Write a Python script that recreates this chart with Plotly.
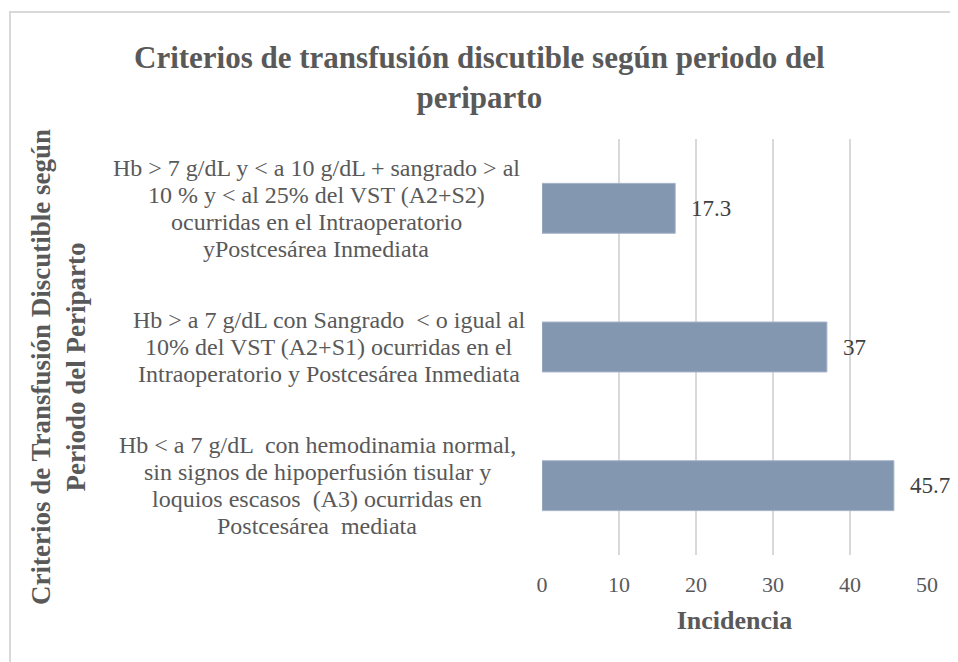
import plotly.graph_objects as go

# categorias (de arriba hacia abajo), una lista de lineas por categoria
categorias = [
    ["Hb > 7 g/dL y < a 10 g/dL + sangrado > al",
     "10 % y < al 25% del VST (A2+S2)",
     "ocurridas en el Intraoperatorio",
     "yPostcesárea Inmediata"],
    ["Hb > a 7 g/dL con Sangrado  < o igual al",
     "10% del VST (A2+S1) ocurridas en el",
     "Intraoperatorio y Postcesárea Inmediata"],
    ["Hb < a 7 g/dL  con hemodinamia normal,",
     "sin signos de hipoperfusión tisular y",
     "loquios escasos  (A3) ocurridas en",
     "Postcesárea  mediata"],
]
claves = ["A2+S2", "A2+S1", "A3"]
incidencia = [17.3, 37, 45.7]
etiquetas = ["17.3", "37", "45.7"]
x_ticks = [0, 10, 20, 30, 40, 50]

FONT = "Liberation Serif"
GRIS = "#595959"

# geometria (la pagina tiene 8 px de margen en el body)
W, H = 950, 654
L, R, T, B = 534, 31, 131, 107
PW, PH = W - L - R, H - T - B


def px_x(p):
    return (p - 8 - L) / PW


def px_y(p):
    return (H - B - (p - 8)) / PH


fig = go.Figure()
fig.add_trace(go.Bar(
    x=incidencia,
    y=claves,
    orientation="h",
    marker=dict(color="#8497b0", line=dict(color="#a6b4c8", width=1)),
    width=0.36,
    hoverinfo="x+y",
))

# etiquetas de valores
for c, v, t in zip(claves, incidencia, etiquetas):
    fig.add_annotation(x=v, y=c, xref="x", yref="y", text=t, showarrow=False,
                       xanchor="left", yanchor="middle", xshift=14,
                       font=dict(family=FONT, size=23, color="#404040"))

# etiquetas de categorias (centradas, multilinea)
centros = [316, 329, 317]
for c, lineas, cx in zip(claves, categorias, centros):
    n = len(lineas)
    for i, linea in enumerate(lineas):
        fig.add_annotation(x=px_x(cx), y=c, xref="paper", yref="y", text=linea,
                           showarrow=False, xanchor="center", yanchor="middle",
                           yshift=((n - 1) / 2 - i) * 27,
                           font=dict(family=FONT, size=24, color=GRIS))

# titulo del grafico
fig.add_annotation(x=px_x(479), y=px_y(77), xref="paper", yref="paper",
                   text="<b>Criterios de transfusión discutible según periodo del<br>periparto</b>",
                   showarrow=False, xanchor="center", yanchor="middle", align="center",
                   font=dict(family=FONT, size=31, color=GRIS))

# titulo del eje Y
fig.add_annotation(x=px_x(58), y=px_y(367), xref="paper", yref="paper",
                   text="<b>Criterios de Transfusión Discutible según<br>Periodo del Periparto</b>",
                   textangle=-90, showarrow=False, xanchor="center", yanchor="middle",
                   align="center", font=dict(family=FONT, size=27, color=GRIS))

# marco del grafico
fig.add_shape(type="rect", xref="paper", yref="paper",
              x0=px_x(10), x1=1.3, y0=-0.5, y1=px_y(12),
              line=dict(color="#d9d9d9", width=2), fillcolor="rgba(0,0,0,0)", layer="below")

fig.update_layout(
    width=W,
    height=H,
    margin=dict(l=L, r=R, t=T, b=B),
    paper_bgcolor="white",
    plot_bgcolor="white",
    showlegend=False,
    xaxis=dict(
        range=[0, 50],
        tickvals=x_ticks,
        showgrid=True,
        gridcolor="#d9d9d9",
        gridwidth=1.5,
        zeroline=False,
        showline=False,
        ticks="",
        ticklabelstandoff=14,
        tickfont=dict(family=FONT, size=22, color=GRIS),
        title=dict(text="<b>Incidencia</b>", standoff=14,
                   font=dict(family=FONT, size=26, color=GRIS)),
    ),
    yaxis=dict(
        categoryorder="array",
        categoryarray=claves,
        autorange="reversed",
        showticklabels=False,
        showgrid=False,
        zeroline=False,
        showline=False,
        ticks="",
    ),
)

fig.write_html("out.html")
